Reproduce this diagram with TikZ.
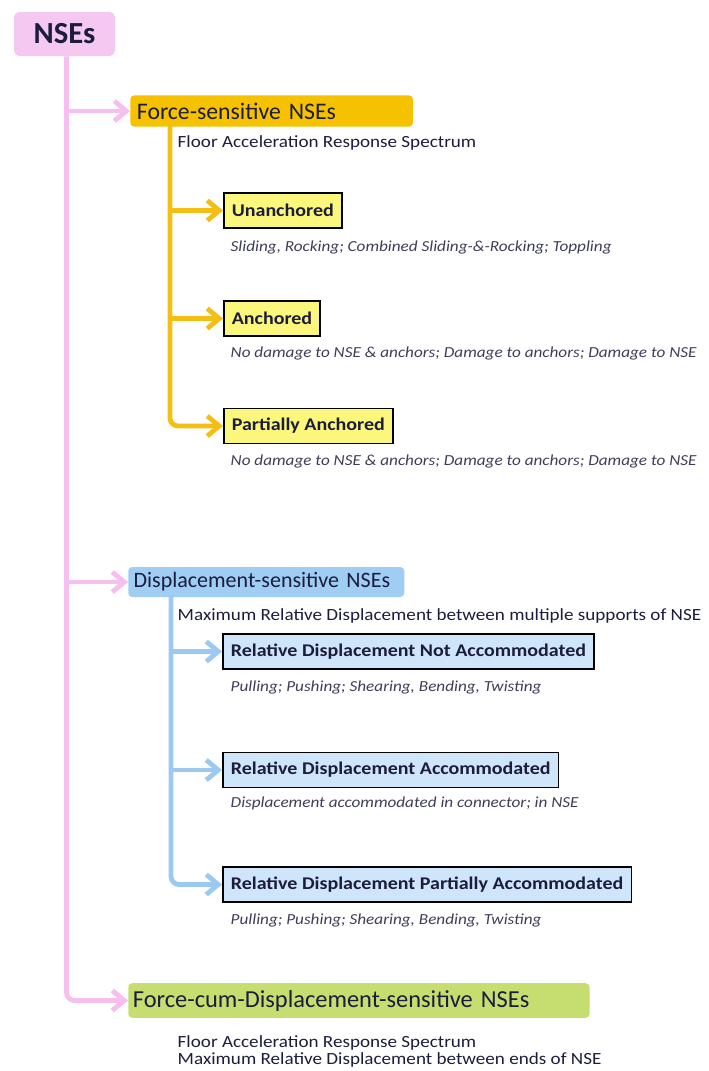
\documentclass[tikz,border=0pt]{standalone}
\usepackage{fontspec}
\setmainfont{Carlito}[FakeStretch=1.12]
\newfontfamily\headfont{Carlito}
\usepackage{xcolor}
\usetikzlibrary{arrows.meta}

\definecolor{pinkfill}{HTML}{F5C8F2}
\definecolor{pinkline}{HTML}{F7BFF0}
\definecolor{goldfill}{HTML}{F6C200}
\definecolor{goldline}{HTML}{F5BE12}
\definecolor{yelfill}{HTML}{FAF77C}
\definecolor{bluefill}{HTML}{9FCDF4}
\definecolor{blueline}{HTML}{9CC9F2}
\definecolor{lbluefill}{HTML}{CFE5F9}
\definecolor{greenfill}{HTML}{C6DD70}
\definecolor{navy}{HTML}{1C1C3C}

\tikzset{
  headbox/.style={rounded corners=3pt, anchor=west, text=navy, align=left,
    inner xsep=5pt, font=\headfont\fontsize{17.8}{20}\selectfont},
  subbox/.style={draw=black, line width=1.2pt, anchor=west, text=navy,
    inner xsep=6pt, minimum height=26pt, font=\fontsize{13.4}{16}\selectfont\bfseries},
  desc/.style={anchor=west, text=navy!85, font=\fontsize{11.5}{14}\selectfont\itshape},
  note/.style={anchor=west, text=navy, font=\fontsize{12.8}{12.75}\selectfont},
  trunk/.style={line width=3.6pt, rounded corners=6pt},
  branch/.style={line width=3.6pt, -{Straight Barb[length=9pt,width=15pt]}}
}

\begin{document}
\begin{tikzpicture}[x=0.75pt,y=-0.75pt]
\useasboundingbox (0,0) rectangle (708,1071);

% root
\node[rounded corners=4pt, fill=pinkfill, minimum width=75.75pt, minimum height=33pt,
  text=navy, font=\headfont\fontsize{23}{26}\selectfont\bfseries] (nses) at (64.5,34) {NSEs};

% first level
\node[headbox, fill=goldfill, text width=202pt, minimum height=23.5pt] (force) at (130,111) {\mbox{Force-sensitive NSEs}};
\node[headbox, fill=bluefill, text width=199pt, minimum height=22.5pt, inner xsep=4pt,
  font=\headfont\fontsize{16.5}{20}\selectfont] (disp) at (128,582) {\mbox{Displacement-sensitive NSEs}};
\node[headbox, fill=greenfill, text width=339pt, minimum height=26pt, inner xsep=3.5pt,
  font=\headfont\fontsize{18.3}{20}\selectfont] (fcd) at (128,1000.5) {\mbox{Force-cum-Displacement-sensitive NSEs}};

\node[note] (facc) at (173,143) {Floor Acceleration Response Spectrum};
\node[note] (mrd) at (173,616) {Maximum Relative Displacement between multiple supports of NSE};
\node[note, align=left] (fcdnote) at (173,1051.5) {Floor Acceleration Response Spectrum\\Maximum Relative Displacement between ends of NSE};

% force-sensitive
\node[subbox, fill=yelfill] (unanch) at (223,210.5) {Unanchored};
\node[subbox, fill=yelfill] (anch) at (223,318.5) {Anchored};
\node[subbox, fill=yelfill] (panch) at (223,426) {Partially Anchored};
\node[desc] (unanchd) at (226,247) {Sliding, Rocking; Combined Sliding-\&-Rocking; Toppling};
\node[desc] (anchd) at (226,353) {No damage to NSE \& anchors; Damage to anchors; Damage to NSE};
\node[desc] (panchd) at (226,461) {No damage to NSE \& anchors; Damage to anchors; Damage to NSE};

% displacement-sensitive
\node[subbox, fill=lbluefill] (rdna) at (222,651.5) {Relative Displacement Not Accommodated};
\node[subbox, fill=lbluefill] (rda) at (222,770) {Relative Displacement Accommodated};
\node[subbox, fill=lbluefill] (rdpa) at (222,884.5) {Relative Displacement Partially Accommodated};
\node[desc] (rdnad) at (226,687) {Pulling; Pushing; Shearing, Bending, Twisting};
\node[desc] (rdad) at (226,803) {Displacement accommodated in connector; in NSE};
\node[desc] (rdpad) at (226,920) {Pulling; Pushing; Shearing, Bending, Twisting};

% connectors
\draw[trunk, pinkline, -{Straight Barb[length=9pt,width=15pt]}] ([xshift=1.5pt]nses.south) |- (fcd.west);
\draw[branch, pinkline] (66,111) -- (force.west);
\draw[branch, pinkline] (66,582) -- (disp.west);

\draw[trunk, goldline, -{Straight Barb[length=9pt,width=15pt]}] (170,126) |- (panch.west);
\draw[branch, goldline] (170,210.5) -- (unanch.west);
\draw[branch, goldline] (170,318.5) -- (anch.west);

\draw[trunk, blueline, -{Straight Barb[length=9pt,width=15pt]}] (171,596) |- (rdpa.west);
\draw[branch, blueline] (171,651.5) -- (rdna.west);
\draw[branch, blueline] (171,770) -- (rda.west);
\end{tikzpicture}
\end{document}
